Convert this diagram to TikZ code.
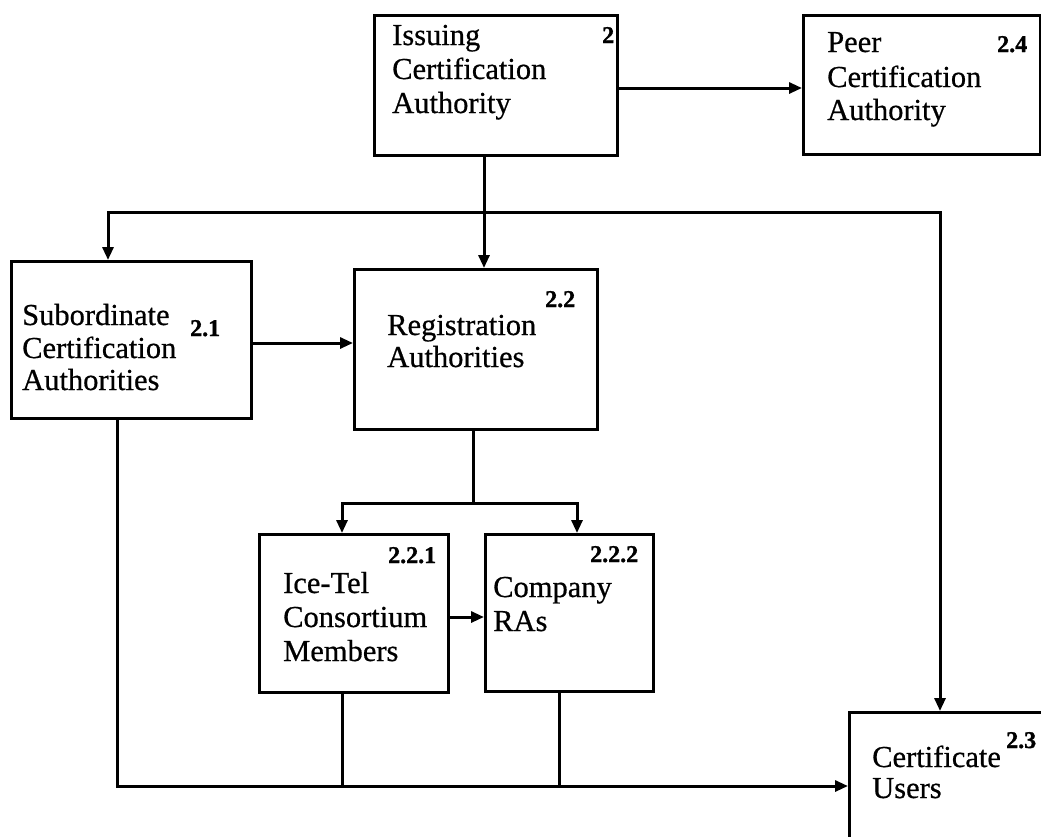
\documentclass[tikz,border=0pt]{standalone}
\usepackage{fontspec}
\setmainfont{Liberation Serif}[FakeBold=1.2]
\usetikzlibrary{arrows.meta}
\begin{document}
\begin{tikzpicture}[x=1pt,y=-1pt,
  box/.style={draw,line width=3.2pt,inner sep=0pt,anchor=north west},
  lbl/.style={anchor=base west,inner sep=0pt,font=\fontsize{30.5}{34}\selectfont\addfontfeature{FakeBold=0.6}},
  num/.style={anchor=base west,inner sep=0pt,font=\fontsize{24}{26}\selectfont\bfseries},
  link/.style={line width=3pt},
  tip/.tip={Triangle[length=13pt,width=11pt]},
  arr/.style={link,-tip},
  arrboth/.style={link,tip-tip}]
\useasboundingbox (0,0) rectangle (1041,836);
\clip (0,0) rectangle (1041,836);

% boxes
\node[box,minimum width=243pt,minimum height=140pt] (ica)   at (373,14)  {};
\node[box,minimum width=237pt,minimum height=139pt] (peer)  at (802,14)  {};
\node[box,minimum width=240pt,minimum height=157pt] (sub)   at (10,260)  {};
\node[box,minimum width=243pt,minimum height=160pt] (reg)   at (353,268) {};
\node[box,minimum width=189pt,minimum height=158pt] (ice)   at (258,533) {};
\node[box,minimum width=168pt,minimum height=157pt] (comp)  at (484,533) {};
\node[box,minimum width=220pt,minimum height=160pt] (users) at (848,711) {};

% box texts
\node[lbl] (ica1) at (392,45)  {Issuing};
\node[lbl] (ica2) at (392,79)  {Certification};
\node[lbl] (ica3) at (392,113) {Authority};
\node[num] (ican) at (602,43)  {2};

\node[lbl] (peer1) at (827,52)  {Peer};
\node[lbl] (peer2) at (827,87)  {Certification};
\node[lbl] (peer3) at (827,120) {Authority};
\node[num] (peern) at (997,52)  {2.4};

\node[lbl] (sub1) at (22,325) {Subordinate};
\node[lbl] (sub2) at (22,358) {Certification};
\node[lbl] (sub3) at (22,390) {Authorities};
\node[num] (subn) at (190,336) {2.1};

\node[lbl] (reg1) at (387,335) {Registration};
\node[lbl] (reg2) at (387,367) {Authorities};
\node[num] (regn) at (545,307) {2.2};

\node[lbl] (ice1) at (283,593) {Ice-Tel};
\node[lbl] (ice2) at (283,627) {Consortium};
\node[lbl] (ice3) at (283,661) {Members};
\node[num] (icen) at (388,563) {2.2.1};

\node[lbl] (comp1) at (493,597) {Company};
\node[lbl] (comp2) at (493,631) {RAs};
\node[num] (compn) at (590,562) {2.2.2};

\node[lbl] (users1) at (872,767) {Certificate};
\node[lbl] (users2) at (872,798) {Users};
\node[num] (usersn) at (1006,748) {2.3};

% junction points of the connectors
\coordinate (peerrow) at (0,88);
\coordinate (trunk)   at (484,212);
\coordinate (busL)    at (108,212);
\coordinate (busR)    at (940,212);
\coordinate (subrow)  at (0,343);
\coordinate (fork)    at (473,503);
\coordinate (forkL)   at (342,503);
\coordinate (forkR)   at (577,503);
\coordinate (icerow)  at (0,617);
\coordinate (bus2)    at (117,786);
\coordinate (compdn)  at (559,786);

% connectors
\draw[arr] (ica.east |- peerrow) -- (peer.west |- peerrow);
\draw[arr] (ica.south -| trunk) -- (reg.north -| trunk);
\draw[arrboth] (sub.north -| busL) -- (busL) -- (busR) -- (users.north -| busR);
\draw[arr] (sub.east |- subrow) -- (reg.west |- subrow);
\draw[link] (reg.south -| fork) -- (fork);
\draw[arrboth] (ice.north -| forkL) -- (forkL) -- (forkR) -- (comp.north -| forkR);
\draw[arr] (ice.east |- icerow) -- (comp.west |- icerow);
\draw[arr] (sub.south -| bus2) -- (bus2) -- (bus2 -| users.west);
\draw[link] (ice.south -| forkL) -- (forkL |- bus2);
\draw[link] (comp.south -| compdn) -- (compdn);
\end{tikzpicture}
\end{document}
